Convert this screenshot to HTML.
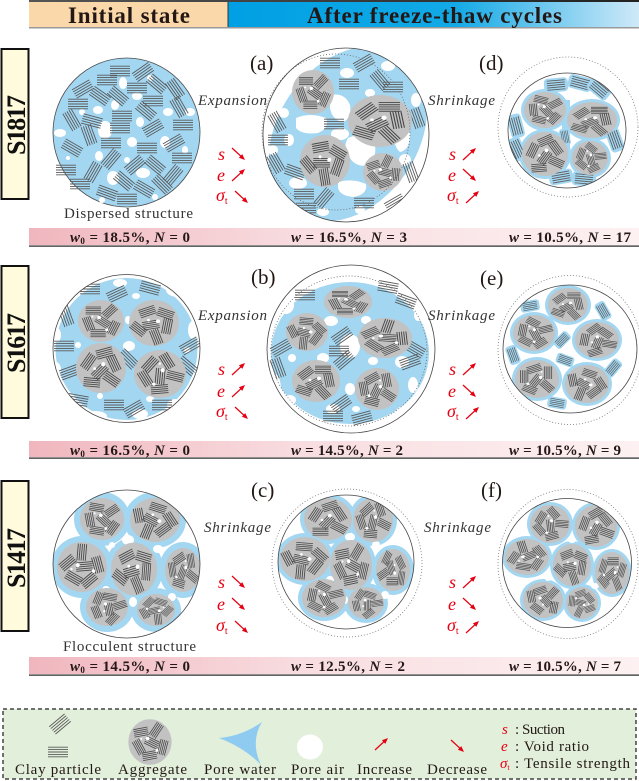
<!DOCTYPE html>
<html><head><meta charset="utf-8">
<style>html,body{margin:0;padding:0;background:#fff;width:639px;height:781px;overflow:hidden}svg{display:block}text{font-family:"Liberation Serif",serif}</style>
</head><body>
<svg width="639" height="781" viewBox="0 0 639 781" xmlns="http://www.w3.org/2000/svg" font-family="'Liberation Serif', serif">
<defs>
<linearGradient id="hb" x1="0" x2="1"><stop offset="0" stop-color="#00a0e4"/><stop offset="0.55" stop-color="#12a9e6"/><stop offset="1" stop-color="#cfe9f8"/></linearGradient>
<linearGradient id="hl" x1="0" x2="1"><stop offset="0" stop-color="#555"/><stop offset="1" stop-color="#222"/></linearGradient>
<linearGradient id="pb" x1="0" x2="1"><stop offset="0" stop-color="#f0b6be"/><stop offset="0.45" stop-color="#f8dde0"/><stop offset="1" stop-color="#fdf1f2"/></linearGradient>
<linearGradient id="ga" x1="0" x2="1"><stop offset="0" stop-color="#b8c9d8"/><stop offset="1" stop-color="#a2b9cc"/></linearGradient>
<g id="c"><path d="M-10,-4.8h20M-10,-2.4h20M-10,0h20M-10,2.4h20M-10,4.8h20" stroke="#5a5a5a" stroke-width="0.9" fill="none"/></g>
<g id="d"><path d="M-8,-4h16M-8,-2h16M-8,0h16M-8,2h16M-8,4h16" stroke="#474747" stroke-width="0.85" fill="none"/></g>
<g id="bp"><rect x="-12" y="-7" width="24" height="14" rx="4" fill="#a3d6f1"/><use href="#c" transform="scale(0.9,0.95)"/></g>
<g id="ag">
 <ellipse rx="24" ry="24" fill="#c2c2c2"/>
 <use href="#d" transform="translate(-8,-12) rotate(0)"/>
 <use href="#d" transform="translate(9,-11) rotate(-45)"/>
 <use href="#d" transform="translate(-13,3) rotate(70)"/>
 <use href="#d" transform="translate(2,1) rotate(35)"/>
 <use href="#d" transform="translate(13,8) rotate(-65)"/>
 <use href="#d" transform="translate(-3,14) rotate(0)"/>
 <circle cx="-2" cy="-4" r="2" fill="#fff"/>
 <circle cx="6" cy="10" r="1.6" fill="#fff"/>
 <circle cx="-9" cy="-5" r="1.1" fill="#fff"/>
</g>
<g id="ag2">
 <ellipse rx="24" ry="24" fill="#c2c2c2"/>
 <use href="#d" transform="translate(-10,-9) rotate(-40)"/>
 <use href="#d" transform="translate(7,-13) rotate(0)"/>
 <use href="#d" transform="translate(13,-1) rotate(80)"/>
 <use href="#d" transform="translate(-2,3) rotate(-30)"/>
 <use href="#d" transform="translate(-12,11) rotate(20)"/>
 <use href="#d" transform="translate(7,13) rotate(50)"/>
 <circle cx="3" cy="-3" r="2" fill="#fff"/>
 <circle cx="-6" cy="-1" r="1.4" fill="#fff"/>
</g>
<g id="up"><path d="M0,0L9,-8.3" stroke="#e60012" stroke-width="1.3"/><path d="M13,-12L6.9,-9.7L10.3,-6.1Z" fill="#e60012"/></g>
<g id="dn"><path d="M0,0L9,8.3" stroke="#e60012" stroke-width="1.3"/><path d="M13,12L6.9,9.7L10.3,6.1Z" fill="#e60012"/></g>
<g id="ga"><path d="M0,-5H24V-10L40,0L24,10V5H0Z" fill="url(#ga)"/></g>
<clipPath id="ka"><ellipse cx="346" cy="135" rx="83" ry="87"/></clipPath>
<clipPath id="kd"><ellipse cx="567" cy="130.5" rx="59" ry="57.5"/></clipPath>
<clipPath id="k2"><ellipse cx="126.5" cy="348.5" rx="73.5" ry="74"/></clipPath>
<clipPath id="kb"><ellipse cx="351" cy="349" rx="84" ry="84"/></clipPath>
<clipPath id="ke"><ellipse cx="570" cy="349" rx="67" ry="64"/></clipPath>
<clipPath id="k3"><ellipse cx="126.5" cy="564" rx="73.5" ry="74"/></clipPath>
<clipPath id="kc"><ellipse cx="346" cy="562" rx="68" ry="67"/></clipPath>
<clipPath id="kf"><ellipse cx="567" cy="563" rx="64.5" ry="64.5"/></clipPath>
</defs>

<!-- HEADER -->
<rect x="29" y="0" width="610" height="2" fill="url(#hl)"/>
<rect x="29" y="2" width="199" height="25" fill="#fad8a9"/>
<rect x="228" y="2" width="411" height="25" fill="url(#hb)"/>
<rect x="227.5" y="2" width="1" height="25" fill="#333"/>
<rect x="29" y="27" width="610" height="1.5" fill="#9a9a9a"/>
<text x="68" y="23" font-size="23" font-weight="bold" fill="#231815" textLength="122" lengthAdjust="spacing">Initial state</text>
<text x="307" y="23" font-size="23" font-weight="bold" fill="#231815" textLength="255" lengthAdjust="spacing">After freeze-thaw cycles</text>

<!-- SIDE LABELS -->
<rect x="1.5" y="49" width="27" height="150" fill="#fffbdc" stroke="#111" stroke-width="2"/>
<text transform="translate(25,125) rotate(-90)" text-anchor="middle" font-size="26" font-weight="bold" fill="#111" textLength="60" lengthAdjust="spacing">S1817</text>
<rect x="1.5" y="266" width="27" height="152" fill="#fffbdc" stroke="#111" stroke-width="2"/>
<text transform="translate(25,343) rotate(-90)" text-anchor="middle" font-size="26" font-weight="bold" fill="#111" textLength="60" lengthAdjust="spacing">S1617</text>
<rect x="1.5" y="481" width="27" height="150" fill="#fffbdc" stroke="#111" stroke-width="2"/>
<text transform="translate(25,558) rotate(-90)" text-anchor="middle" font-size="26" font-weight="bold" fill="#111" textLength="60" lengthAdjust="spacing">S1417</text>

<!-- ============ ROW 1 ============ -->
<ellipse cx="126.5" cy="132.5" rx="73.5" ry="74.5" fill="#a3d6f1" stroke="#4d4d4d" stroke-width="0.8"/>
<g fill="#fff">
<ellipse cx="123" cy="83" rx="4" ry="6"/><ellipse cx="137" cy="96" rx="5" ry="4"/><ellipse cx="115" cy="105" rx="4" ry="5"/>
<ellipse cx="98" cy="110" rx="5" ry="4"/><ellipse cx="82" cy="112" rx="3" ry="3"/><ellipse cx="140" cy="122" rx="4" ry="5"/>
<ellipse cx="168" cy="112" rx="5" ry="4"/><ellipse cx="190" cy="112" rx="5" ry="4"/><ellipse cx="60" cy="133" rx="6" ry="4"/>
<ellipse cx="105" cy="130" rx="7" ry="9"/><ellipse cx="132" cy="142" rx="5" ry="5"/><ellipse cx="165" cy="142" rx="5" ry="6"/>
<ellipse cx="99" cy="156" rx="4" ry="5"/><ellipse cx="127" cy="160" rx="3" ry="3"/><ellipse cx="113" cy="178" rx="6" ry="7"/>
<ellipse cx="143" cy="173" rx="7" ry="5"/><ellipse cx="68" cy="158" rx="2" ry="2"/><ellipse cx="102" cy="200" rx="3" ry="3"/>
<ellipse cx="155" cy="197" rx="3" ry="3"/><ellipse cx="185" cy="150" rx="3" ry="4"/><ellipse cx="150" cy="78" rx="3" ry="3"/>
</g>
<g>
<use href="#c" transform="translate(120 71) rotate(0)"/><use href="#c" transform="translate(143 72) rotate(-35)"/>
<use href="#c" transform="translate(107 80) rotate(0)"/><use href="#c" transform="translate(157 84) rotate(40)"/>
<use href="#c" transform="translate(83 89) rotate(-30)"/><use href="#c" transform="translate(100 96) rotate(35)"/>
<use href="#c" transform="translate(137 88) rotate(0)"/><use href="#c" transform="translate(175 89) rotate(55)"/>
<use href="#c" transform="translate(118 96) rotate(40)"/><use href="#c" transform="translate(78 104) rotate(0)"/>
<use href="#c" transform="translate(153 101) rotate(0)"/><use href="#c" transform="translate(179 107) rotate(60)"/>
<use href="#c" transform="translate(72 120) rotate(60)"/><use href="#c" transform="translate(92 121) rotate(15)"/>
<use href="#c" transform="translate(122 116) rotate(0)"/><use href="#c" transform="translate(146 111) rotate(40)"/>
<use href="#c" transform="translate(183 125) rotate(0)"/><use href="#c" transform="translate(89 135) rotate(70)"/>
<use href="#c" transform="translate(120 128) rotate(0)"/><use href="#c" transform="translate(153 128) rotate(-30)"/>
<use href="#c" transform="translate(72 148) rotate(30)"/><use href="#c" transform="translate(111 143) rotate(0)"/>
<use href="#c" transform="translate(147 148) rotate(0)"/><use href="#c" transform="translate(174 143) rotate(-30)"/>
<use href="#c" transform="translate(182 158) rotate(0)"/><use href="#c" transform="translate(66 170) rotate(0)"/>
<use href="#c" transform="translate(111 159) rotate(-50)"/><use href="#c" transform="translate(135 165) rotate(-40)"/>
<use href="#c" transform="translate(155 165) rotate(40)"/><use href="#c" transform="translate(173 175) rotate(-50)"/>
<use href="#c" transform="translate(80 184) rotate(0)"/><use href="#c" transform="translate(107 193) rotate(20)"/>
<use href="#c" transform="translate(124 181) rotate(40)"/><use href="#c" transform="translate(144 189) rotate(30)"/>
<use href="#c" transform="translate(127 199) rotate(0)"/><use href="#c" transform="translate(162 184) rotate(45)"/>
<use href="#c" transform="translate(93 172) rotate(-60)"/>
</g>
<text x="64" y="218" font-size="15" fill="#333" textLength="129" lengthAdjust="spacing">Dispersed structure</text>

<!-- circle (a) -->
<ellipse cx="346" cy="135" rx="83" ry="87" fill="#fff"/>
<g clip-path="url(#ka)">
<ellipse cx="348" cy="134" rx="70" ry="95" transform="rotate(35 348 134)" fill="#a3d6f1"/>
<g fill="#fff">
<ellipse cx="347" cy="73" rx="7" ry="5"/><ellipse cx="388" cy="66" rx="7" ry="5"/>
<path d="M330,95 Q345,92 350,105 Q352,118 343,122 Q332,120 330,108Z"/>
<path d="M296,118 Q310,112 326,118 Q330,128 318,133 Q302,135 296,128Z"/>
<ellipse cx="340" cy="134" rx="9" ry="6"/>
<path d="M348,138 Q362,132 374,140 Q378,155 370,165 Q356,168 350,158 Q342,148 348,138Z"/>
<ellipse cx="284" cy="113" rx="5" ry="5"/><ellipse cx="273" cy="150" rx="5" ry="5"/>
<ellipse cx="298" cy="183" rx="9" ry="6"/>
<path d="M338,182 Q352,178 366,184 Q368,194 354,197 Q340,196 338,188Z"/>
<ellipse cx="323" cy="212" rx="6" ry="4"/><ellipse cx="289" cy="140" rx="5" ry="6"/>
<path d="M394,124 Q406,122 410,134 Q410,150 400,152 Q392,146 394,124Z"/>
<ellipse cx="416" cy="100" rx="5" ry="7"/><ellipse cx="405" cy="160" rx="6" ry="6"/>
<ellipse cx="302" cy="75" rx="6" ry="4"/><ellipse cx="370" cy="93" rx="5" ry="4"/><ellipse cx="412" cy="186" rx="6" ry="6"/>
<ellipse cx="280" cy="195" rx="5" ry="4"/><ellipse cx="360" cy="210" rx="5" ry="4"/>
</g>
<use href="#c" transform="translate(330 63)"/><use href="#c" transform="translate(364 63) rotate(-30)"/>
<use href="#c" transform="translate(349 84)"/><use href="#c" transform="translate(393 87)"/>
<use href="#c" transform="translate(380 80) rotate(50)"/><use href="#c" transform="translate(277 122) rotate(60)"/>
<use href="#c" transform="translate(278 140)"/><use href="#c" transform="translate(334 124)"/>
<use href="#c" transform="translate(276 163) rotate(60)"/><use href="#c" transform="translate(295 172) rotate(20)"/>
<use href="#c" transform="translate(304 194)"/><use href="#c" transform="translate(324 198) rotate(-50)"/>
<use href="#c" transform="translate(364 203)"/><use href="#c" transform="translate(417 118) rotate(70)"/>
<use href="#c" transform="translate(411 172) rotate(70)"/><use href="#c" transform="translate(395 203) rotate(-30)"/>
<use href="#c" transform="translate(306 208)"/>
<use href="#ag" transform="translate(313 92) scale(0.875 0.917)"/>
<use href="#ag2" transform="translate(380 121) scale(1.333 1.083)"/>
<use href="#ag2" transform="translate(325 161) scale(1.042 1.083) rotate(30)"/>
<use href="#ag" transform="translate(383 172) scale(0.833 0.792) rotate(-20)"/>
</g>
<ellipse cx="336" cy="132" rx="74" ry="78" fill="none" stroke="#666" stroke-width="0.8" stroke-dasharray="1 2"/>
<ellipse cx="346" cy="135" rx="83" ry="87" fill="none" stroke="#444" stroke-width="0.8"/>

<!-- circle (d) -->
<ellipse cx="568" cy="127" rx="70" ry="70" fill="none" stroke="#777" stroke-width="0.8" stroke-dasharray="1 2"/>
<ellipse cx="567" cy="130.5" rx="59" ry="57.5" fill="#fff"/>
<g clip-path="url(#kd)">
<g fill="#a3d6f1">
<ellipse cx="545" cy="110" rx="24" ry="21"/><ellipse cx="592" cy="120" rx="28" ry="21"/>
<ellipse cx="545" cy="154" rx="26" ry="25"/><ellipse cx="590" cy="158" rx="21" ry="20"/>
<rect x="562" y="100" width="8" height="50"/>
</g>
<use href="#bp" transform="translate(556 85) rotate(-5)"/><use href="#bp" transform="translate(580 83) rotate(15)"/>
<use href="#bp" transform="translate(599 89) rotate(40)"/><use href="#bp" transform="translate(516 126) rotate(75)"/>
<use href="#bp" transform="translate(517 149) rotate(65)"/><use href="#bp" transform="translate(565 137) rotate(80) scale(0.7)"/>
<use href="#bp" transform="translate(615 140) rotate(70)"/><use href="#bp" transform="translate(561 177) rotate(-10)"/>
<use href="#bp" transform="translate(584 179) rotate(5)"/>
<use href="#ag" transform="translate(545 110) scale(0.875 0.75) rotate(15)"/>
<use href="#ag2" transform="translate(592 120) scale(1.042 0.75)"/>
<use href="#ag2" transform="translate(545 154) scale(0.958 0.917) rotate(-25)"/>
<use href="#ag" transform="translate(590 158) scale(0.75 0.708) rotate(40)"/>
</g>
<ellipse cx="567" cy="130.5" rx="59" ry="57.5" fill="none" stroke="#444" stroke-width="0.8"/>

<text x="250" y="70" font-size="21" fill="#231815">(a)</text>
<text x="479" y="70" font-size="21" fill="#231815">(d)</text>
<text x="198" y="105" font-size="15" font-style="italic" fill="#333" textLength="69" lengthAdjust="spacing">Expansion</text>
<text x="428" y="105" font-size="15" font-style="italic" fill="#333" textLength="67" lengthAdjust="spacing">Shrinkage</text>
<use href="#ga" transform="translate(212 132)"/>
<use href="#ga" transform="translate(442 132)"/>
<g font-size="18" font-style="italic" fill="#e60012">
<text x="218" y="160">s</text><text x="217" y="181">e</text><text x="216" y="201">σ<tspan font-size="10" font-style="normal" dy="3">t</tspan></text>
<text x="449" y="160">s</text><text x="448" y="181">e</text><text x="447" y="201">σ<tspan font-size="10" font-style="normal" dy="3">t</tspan></text>
</g>
<use href="#dn" transform="translate(232 148)"/><use href="#up" transform="translate(232 181)"/><use href="#dn" transform="translate(235 191)"/>
<use href="#up" transform="translate(463 160)"/><use href="#dn" transform="translate(463 169)"/><use href="#up" transform="translate(466 203)"/>

<rect x="29" y="228" width="610" height="17" fill="url(#pb)"/>
<rect x="29" y="245.5" width="610" height="1.2" fill="#222"/>
<g font-size="15" font-weight="bold" fill="#231815">
<text x="70" y="242" textLength="120" lengthAdjust="spacing"><tspan font-style="italic">w</tspan><tspan font-size="9" dy="2">0</tspan><tspan dy="-2"> = 18.5%, </tspan><tspan font-style="italic">N</tspan> = 0</text>
<text x="291" y="242" textLength="116" lengthAdjust="spacing"><tspan font-style="italic">w</tspan> = 16.5%, <tspan font-style="italic">N</tspan> = 3</text>
<text x="509" y="242" textLength="122" lengthAdjust="spacing"><tspan font-style="italic">w</tspan> = 10.5%, <tspan font-style="italic">N</tspan> = 17</text>
</g>

<!-- ============ ROW 2 ============ -->
<ellipse cx="126.5" cy="348.5" rx="73.5" ry="74" fill="#fff"/>
<g clip-path="url(#k2)">
<ellipse cx="126.5" cy="349" rx="71" ry="71" fill="#a3d6f1"/>
<g fill="#fff">
<ellipse cx="120" cy="283" rx="7" ry="4"/><ellipse cx="136" cy="296" rx="4" ry="3"/><ellipse cx="178" cy="290" rx="12" ry="7"/>
<ellipse cx="193" cy="330" rx="5" ry="9"/><ellipse cx="57" cy="335" rx="4" ry="7"/><ellipse cx="56" cy="370" rx="5" ry="8"/>
<ellipse cx="68" cy="398" rx="7" ry="5"/><ellipse cx="95" cy="416" rx="12" ry="5"/><ellipse cx="140" cy="414" rx="8" ry="5"/>
<ellipse cx="176" cy="405" rx="9" ry="6"/><ellipse cx="193" cy="385" rx="4" ry="7"/><ellipse cx="129" cy="346" rx="6" ry="5"/>
<ellipse cx="128" cy="320" rx="3" ry="4"/><ellipse cx="78" cy="345" rx="3" ry="3"/><ellipse cx="187" cy="350" rx="3" ry="3"/>
<ellipse cx="100" cy="396" rx="3" ry="3"/><ellipse cx="150" cy="399" rx="4" ry="3"/><ellipse cx="65" cy="298" rx="6" ry="5"/>
</g>
<use href="#c" transform="translate(90 289)"/><use href="#c" transform="translate(117 294) rotate(-25)"/>
<use href="#c" transform="translate(150 288) rotate(15)"/><use href="#c" transform="translate(66 316) rotate(70)"/>
<use href="#c" transform="translate(64 346)"/><use href="#c" transform="translate(70 372) rotate(-20)"/>
<use href="#c" transform="translate(78 400) rotate(10)"/><use href="#c" transform="translate(114 405)"/>
<use href="#c" transform="translate(134 409) rotate(-30)"/><use href="#c" transform="translate(162 405)"/>
<use href="#c" transform="translate(190 346) rotate(-30)"/><use href="#c" transform="translate(187 366) rotate(40)"/>
<use href="#c" transform="translate(128 359) rotate(45)"/>
<use href="#ag" transform="translate(101 321) scale(0.958 0.875)"/>
<use href="#ag2" transform="translate(154 323) scale(1.042 0.958) rotate(20)"/>
<use href="#ag2" transform="translate(101 368) scale(1.042 1.042) rotate(-15)"/>
<use href="#ag" transform="translate(160 374) scale(1.083 1) rotate(60)"/>
</g>
<ellipse cx="126.5" cy="348.5" rx="73.5" ry="74" fill="none" stroke="#444" stroke-width="0.8"/>

<!-- circle (b) -->
<ellipse cx="351" cy="349" rx="84" ry="84" fill="#fff"/>
<g clip-path="url(#kb)">
<ellipse cx="350" cy="353" rx="79" ry="71" fill="#a3d6f1"/>
<g fill="#fff">
<ellipse cx="300" cy="287" rx="14" ry="8"/><ellipse cx="286" cy="305" rx="8" ry="9"/><ellipse cx="402" cy="288" rx="8" ry="5"/>
<ellipse cx="331" cy="321" rx="7" ry="5"/><ellipse cx="350" cy="346" rx="10" ry="12"/><ellipse cx="323" cy="358" rx="6" ry="5"/>
<ellipse cx="366" cy="320" rx="5" ry="4"/><ellipse cx="402" cy="362" rx="7" ry="6"/><ellipse cx="373" cy="361" rx="5" ry="4"/>
<ellipse cx="413" cy="385" rx="5" ry="8"/><ellipse cx="275" cy="390" rx="6" ry="16"/><ellipse cx="292" cy="358" rx="4" ry="4"/>
<ellipse cx="350" cy="389" rx="5" ry="6"/><ellipse cx="333" cy="409" rx="7" ry="5"/><ellipse cx="290" cy="400" rx="6" ry="5"/>
<ellipse cx="405" cy="412" rx="9" ry="6"/><ellipse cx="356" cy="409" rx="4" ry="3"/><ellipse cx="418" cy="315" rx="4" ry="6"/>
</g>
<use href="#c" transform="translate(305 295)"/><use href="#c" transform="translate(388 287) rotate(10)"/>
<use href="#c" transform="translate(406 301) rotate(20)"/><use href="#c" transform="translate(342 336) rotate(-35)"/>
<use href="#c" transform="translate(339 351)"/><use href="#c" transform="translate(344 360) rotate(-40)"/>
<use href="#c" transform="translate(281 348) rotate(-30)"/><use href="#c" transform="translate(278 368) rotate(70)"/>
<use href="#c" transform="translate(341 404) rotate(-35)"/><use href="#c" transform="translate(333 416)"/>
<use href="#c" transform="translate(362 418) rotate(-15)"/><use href="#c" transform="translate(415 349) rotate(30)"/>
<use href="#c" transform="translate(410 362) rotate(-20)"/>
<use href="#ag" transform="translate(348 302) scale(1 0.667)"/>
<use href="#ag2" transform="translate(307 332) scale(0.875 0.792) rotate(45)"/>
<use href="#ag" transform="translate(385 338) scale(1.125 0.833) rotate(-30)"/>
<use href="#ag2" transform="translate(316 381) scale(1 0.875)"/>
<use href="#ag" transform="translate(377 389) scale(0.917 0.875) rotate(80)"/>
</g>
<ellipse cx="349" cy="351" rx="78" ry="75" fill="none" stroke="#666" stroke-width="0.8" stroke-dasharray="1 2"/>
<ellipse cx="351" cy="349" rx="84" ry="84" fill="none" stroke="#444" stroke-width="0.8"/>

<!-- circle (e) -->
<ellipse cx="570" cy="350" rx="72" ry="74.5" fill="none" stroke="#777" stroke-width="0.8" stroke-dasharray="1 2"/>
<ellipse cx="570" cy="349" rx="67" ry="64" fill="#fff"/>
<g clip-path="url(#ke)">
<g fill="#a3d6f1">
<ellipse cx="568" cy="305" rx="23" ry="20"/><ellipse cx="534" cy="333" rx="24" ry="21"/><ellipse cx="597" cy="340" rx="25" ry="21"/>
<ellipse cx="537" cy="379" rx="25" ry="22"/><ellipse cx="587" cy="384" rx="25" ry="22"/>
</g>
<use href="#bp" transform="translate(530 306) rotate(-10) scale(0.8)"/><use href="#bp" transform="translate(603 311) rotate(60) scale(0.8)"/>
<use href="#bp" transform="translate(562 340) rotate(-45) scale(0.75)"/><use href="#bp" transform="translate(565 360) rotate(20) scale(0.75)"/>
<use href="#bp" transform="translate(513 355) rotate(70) scale(0.8)"/><use href="#bp" transform="translate(613 368) rotate(-50) scale(0.8)"/>
<use href="#bp" transform="translate(557 403) rotate(10) scale(0.8)"/>
<use href="#ag2" transform="translate(568 305) scale(0.833 0.708)"/>
<use href="#ag" transform="translate(534 333) scale(0.875 0.75) rotate(30)"/>
<use href="#ag2" transform="translate(597 340) scale(0.917 0.75) rotate(-40)"/>
<use href="#ag" transform="translate(537 379) scale(0.917 0.792) rotate(90)"/>
<use href="#ag2" transform="translate(587 384) scale(0.917 0.792) rotate(60)"/>
</g>
<ellipse cx="570" cy="349" rx="67" ry="64" fill="none" stroke="#444" stroke-width="0.8"/>

<text x="251" y="284" font-size="21" fill="#231815">(b)</text>
<text x="480" y="285" font-size="21" fill="#231815">(e)</text>
<text x="198" y="320" font-size="15" font-style="italic" fill="#333" textLength="69" lengthAdjust="spacing">Expansion</text>
<text x="428" y="320" font-size="15" font-style="italic" fill="#333" textLength="67" lengthAdjust="spacing">Shrinkage</text>
<use href="#ga" transform="translate(212 348)"/>
<use href="#ga" transform="translate(442 348)"/>
<g font-size="18" font-style="italic" fill="#e60012">
<text x="218" y="375">s</text><text x="217" y="397">e</text><text x="216" y="417">σ<tspan font-size="10" font-style="normal" dy="3">t</tspan></text>
<text x="449" y="375">s</text><text x="448" y="397">e</text><text x="447" y="417">σ<tspan font-size="10" font-style="normal" dy="3">t</tspan></text>
</g>
<use href="#up" transform="translate(232 375)"/><use href="#up" transform="translate(232 397)"/><use href="#dn" transform="translate(235 407)"/>
<use href="#up" transform="translate(463 375)"/><use href="#dn" transform="translate(463 385)"/><use href="#up" transform="translate(466 419)"/>

<rect x="29" y="441" width="610" height="16" fill="url(#pb)"/>
<rect x="29" y="457.5" width="610" height="1.2" fill="#222"/>
<g font-size="15" font-weight="bold" fill="#231815">
<text x="70" y="455" textLength="120" lengthAdjust="spacing"><tspan font-style="italic">w</tspan><tspan font-size="9" dy="2">0</tspan><tspan dy="-2"> = 16.5%, </tspan><tspan font-style="italic">N</tspan> = 0</text>
<text x="291" y="455" textLength="112" lengthAdjust="spacing"><tspan font-style="italic">w</tspan> = 14.5%, <tspan font-style="italic">N</tspan> = 2</text>
<text x="509" y="455" textLength="112" lengthAdjust="spacing"><tspan font-style="italic">w</tspan> = 10.5%, <tspan font-style="italic">N</tspan> = 9</text>
</g>

<!-- ============ ROW 3 ============ -->
<ellipse cx="126.5" cy="564" rx="73.5" ry="74" fill="#fff"/>
<g clip-path="url(#k3)">
<g fill="#a3d6f1">
<ellipse cx="102" cy="519" rx="28" ry="27"/><ellipse cx="155" cy="520" rx="31" ry="28"/><ellipse cx="82" cy="567" rx="31" ry="31"/>
<ellipse cx="134" cy="569" rx="29" ry="32"/><ellipse cx="183" cy="570" rx="24" ry="28"/><ellipse cx="107" cy="607" rx="27" ry="25"/>
<ellipse cx="156" cy="610" rx="25" ry="22"/>
</g>
<g fill="#fff">
<ellipse cx="128" cy="540" rx="6" ry="5"/><ellipse cx="158" cy="549" rx="5" ry="4"/><ellipse cx="106" cy="590" rx="4" ry="4"/>
<ellipse cx="133" cy="602" rx="4" ry="5"/><ellipse cx="112" cy="545" rx="3" ry="3"/><ellipse cx="172" cy="597" rx="4" ry="4"/>
<ellipse cx="58" cy="598" rx="5" ry="4"/>
</g>
<use href="#ag" transform="translate(102 519) scale(0.917 0.875) rotate(10)"/>
<use href="#ag2" transform="translate(155 520) scale(1.042 0.917) rotate(60)"/>
<use href="#ag" transform="translate(82 567) scale(1.042 1.042) rotate(-40)"/>
<use href="#ag2" transform="translate(134 569) scale(0.958 1.1) rotate(15)"/>
<use href="#ag" transform="translate(183 570) scale(0.75 0.917) rotate(80)"/>
<use href="#ag2" transform="translate(107 607) scale(0.875 0.792) rotate(-70)"/>
<use href="#ag" transform="translate(156 610) scale(0.792 0.667) rotate(130)"/>
</g>
<ellipse cx="126.5" cy="564" rx="73.5" ry="74" fill="none" stroke="#444" stroke-width="0.8"/>
<text x="63" y="651" font-size="15" fill="#333" textLength="133" lengthAdjust="spacing">Flocculent structure</text>

<!-- circle (c) -->
<ellipse cx="347" cy="563" rx="75" ry="74" fill="none" stroke="#777" stroke-width="0.8" stroke-dasharray="1 2"/>
<ellipse cx="346" cy="562" rx="68" ry="67" fill="#fff"/>
<g clip-path="url(#kc)">
<g fill="#a3d6f1">
<ellipse cx="328" cy="519" rx="28" ry="25"/><ellipse cx="373" cy="520" rx="24" ry="26"/><ellipse cx="305" cy="559" rx="29" ry="26"/>
<ellipse cx="351" cy="565" rx="25" ry="29"/><ellipse cx="393" cy="570" rx="21" ry="25"/><ellipse cx="324" cy="598" rx="26" ry="23"/>
<ellipse cx="366" cy="603" rx="22" ry="20"/>
</g>
<g fill="#fff">
<ellipse cx="350" cy="537" rx="5" ry="4"/><ellipse cx="376" cy="545" rx="4" ry="4"/><ellipse cx="330" cy="580" rx="4" ry="4"/>
<ellipse cx="385" cy="595" rx="4" ry="4"/><ellipse cx="345" cy="600" rx="3" ry="4"/>
</g>
<use href="#ag2" transform="translate(328 519) scale(1 0.875) rotate(-20)"/>
<use href="#ag" transform="translate(373 520) scale(0.833 0.917) rotate(70)"/>
<use href="#ag2" transform="translate(305 559) scale(1.042 0.917) rotate(45)"/>
<use href="#ag" transform="translate(351 565) scale(0.875 1.042) rotate(-10)"/>
<use href="#ag2" transform="translate(393 570) scale(0.708 0.875) rotate(100)"/>
<use href="#ag" transform="translate(324 598) scale(0.917 0.792) rotate(30)"/>
<use href="#ag2" transform="translate(366 603) scale(0.75 0.667) rotate(-60)"/>
</g>
<ellipse cx="346" cy="562" rx="68" ry="67" fill="none" stroke="#444" stroke-width="0.8"/>

<!-- circle (f) -->
<ellipse cx="568" cy="564" rx="70" ry="74.5" fill="none" stroke="#777" stroke-width="0.8" stroke-dasharray="1 2"/>
<ellipse cx="567" cy="563" rx="64.5" ry="64.5" fill="#fff"/>
<g clip-path="url(#kf)">
<g fill="#a3d6f1">
<ellipse cx="550" cy="524" rx="23" ry="22"/><ellipse cx="596" cy="526" rx="24" ry="24"/><ellipse cx="527" cy="557" rx="25" ry="21"/>
<ellipse cx="572" cy="565" rx="22" ry="24"/><ellipse cx="612" cy="573" rx="20" ry="24"/><ellipse cx="543" cy="600" rx="23" ry="21"/>
<ellipse cx="582" cy="603" rx="19" ry="19"/>
</g>
<g fill="#fff">
<ellipse cx="572" cy="540" rx="4" ry="3"/><ellipse cx="548" cy="578" rx="3" ry="3"/><ellipse cx="595" cy="586" rx="4" ry="3"/>
</g>
<use href="#ag" transform="translate(550 524) scale(0.833 0.792) rotate(50)"/>
<use href="#ag2" transform="translate(596 526) scale(0.875 0.875) rotate(-30)"/>
<use href="#ag" transform="translate(527 557) scale(0.917 0.75) rotate(-60)"/>
<use href="#ag2" transform="translate(572 565) scale(0.792 0.875) rotate(20)"/>
<use href="#ag" transform="translate(612 573) scale(0.708 0.875) rotate(110)"/>
<use href="#ag2" transform="translate(543 600) scale(0.833 0.75) rotate(-100)"/>
<use href="#ag" transform="translate(582 603) scale(0.667 0.667) rotate(160)"/>
</g>
<ellipse cx="567" cy="563" rx="64.5" ry="64.5" fill="none" stroke="#444" stroke-width="0.8"/>

<text x="251" y="497" font-size="21" fill="#231815">(c)</text>
<text x="481" y="497" font-size="21" fill="#231815">(f)</text>
<text x="204" y="532" font-size="15" font-style="italic" fill="#333" textLength="67" lengthAdjust="spacing">Shrinkage</text>
<text x="424" y="532" font-size="15" font-style="italic" fill="#333" textLength="67" lengthAdjust="spacing">Shrinkage</text>
<use href="#ga" transform="translate(212 562)"/>
<use href="#ga" transform="translate(442 562)"/>
<g font-size="18" font-style="italic" fill="#e60012">
<text x="218" y="588">s</text><text x="217" y="610">e</text><text x="216" y="631">σ<tspan font-size="10" font-style="normal" dy="3">t</tspan></text>
<text x="449" y="588">s</text><text x="448" y="610">e</text><text x="447" y="631">σ<tspan font-size="10" font-style="normal" dy="3">t</tspan></text>
</g>
<use href="#dn" transform="translate(232 576)"/><use href="#dn" transform="translate(232 598)"/><use href="#dn" transform="translate(235 621)"/>
<use href="#up" transform="translate(463 588)"/><use href="#dn" transform="translate(463 598)"/><use href="#up" transform="translate(466 633)"/>

<rect x="29" y="657" width="610" height="17" fill="url(#pb)"/>
<rect x="29" y="674.5" width="610" height="1.2" fill="#222"/>
<g font-size="15" font-weight="bold" fill="#231815">
<text x="70" y="671" textLength="120" lengthAdjust="spacing"><tspan font-style="italic">w</tspan><tspan font-size="9" dy="2">0</tspan><tspan dy="-2"> = 14.5%, </tspan><tspan font-style="italic">N</tspan> = 0</text>
<text x="291" y="671" textLength="114" lengthAdjust="spacing"><tspan font-style="italic">w</tspan> = 12.5%, <tspan font-style="italic">N</tspan> = 2</text>
<text x="509" y="671" textLength="112" lengthAdjust="spacing"><tspan font-style="italic">w</tspan> = 10.5%, <tspan font-style="italic">N</tspan> = 7</text>
</g>

<!-- ============ LEGEND ============ -->
<rect x="3" y="709" width="633" height="70" fill="#e2efdb" stroke="#444" stroke-width="1.5" stroke-dasharray="4 3"/>
<use href="#c" transform="translate(60 724) rotate(-40)"/>
<use href="#c" transform="translate(58 752)"/>
<use href="#ag" transform="translate(150 742) scale(0.9 0.95) rotate(-10)"/>
<path d="M219,738 Q242,736 262,722 Q250,742 261,765 Q245,748 219,738Z" fill="#8fcbf0"/>
<ellipse cx="310" cy="747" rx="13" ry="12.5" fill="#fff"/>
<use href="#up" transform="translate(375 750)"/>
<use href="#dn" transform="translate(451 740)"/>
<g font-size="15" fill="#231815">
<text x="15" y="774" textLength="86" lengthAdjust="spacing">Clay particle</text>
<text x="118" y="774" textLength="69" lengthAdjust="spacing">Aggregate</text>
<text x="204" y="774" textLength="72" lengthAdjust="spacing">Pore water</text>
<text x="291" y="774" textLength="53" lengthAdjust="spacing">Pore air</text>
<text x="357" y="774" textLength="55" lengthAdjust="spacing">Increase</text>
<text x="427" y="774" textLength="60" lengthAdjust="spacing">Decrease</text>
</g>
<g font-size="15">
<text x="502" y="734" font-style="italic" fill="#e60012">s</text>
<text x="515" y="734" fill="#231815" textLength="50" lengthAdjust="spacing">: Suction</text>
<text x="501" y="751" font-style="italic" fill="#e60012">e</text>
<text x="515" y="751" fill="#231815" textLength="74" lengthAdjust="spacing">: Void ratio</text>
<text x="500" y="768" font-style="italic" fill="#e60012">σ<tspan font-size="8" font-style="normal" dy="2">t</tspan></text>
<text x="515" y="768" fill="#231815" textLength="115" lengthAdjust="spacing">: Tensile strength</text>
</g>
</svg>
</body></html>
